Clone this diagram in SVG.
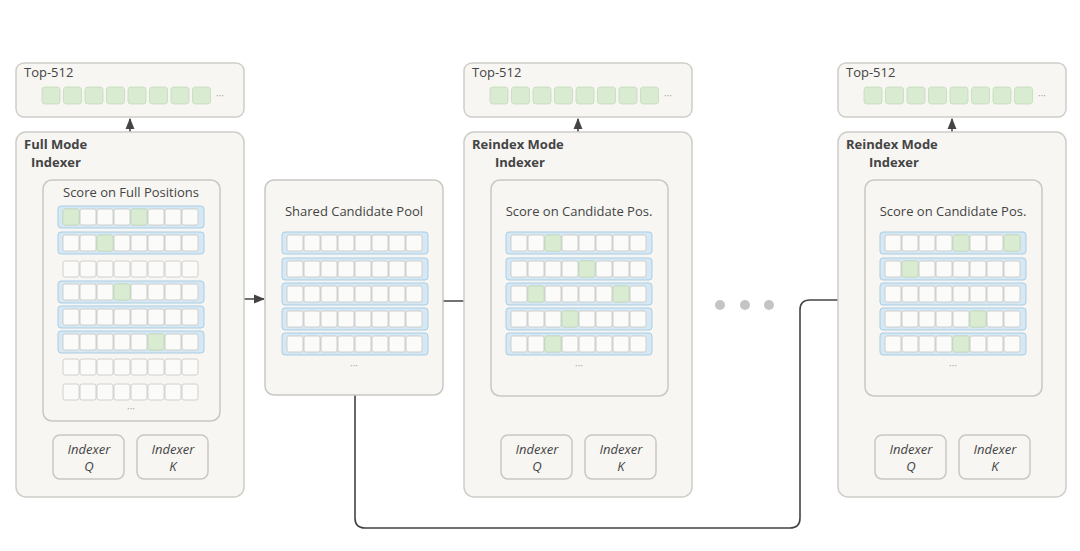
<svg xmlns="http://www.w3.org/2000/svg" xmlns:xlink="http://www.w3.org/1999/xlink" width="1080" height="551" viewBox="0 0 1080 551">
<style>
.panel{fill:#f7f6f3;stroke:#cfcdc8;stroke-width:1.5}
.inner{fill:#f7f6f3;stroke:#c9c7c2;stroke-width:1.5}
.band{fill:#d6e8f3;stroke:#a9cde3;stroke-width:1}
.cell{fill:#fbfbfa;stroke:#c8c6c1;stroke-width:0.8}
.g{fill:#d9ecd2;stroke:#c3dcb9;stroke-width:0.8}
.t{font-family:"Open Sans","DejaVu Sans",sans-serif;fill:#444;font-size:13px}
.b{font-weight:bold}
.i{font-style:italic}
.dots{font-family:"Open Sans",sans-serif;fill:#aaa;font-size:10px}
.ln{stroke:#444;stroke-width:1.6;fill:none}
</style>
<defs>
<marker id="ah" viewBox="0 0 10 10" refX="9" refY="5" markerWidth="7" markerHeight="7" orient="auto-start-reverse"><path d="M0,1 L10,5 L0,9 z" fill="#444"/></marker>
<g id="cells">
<rect class="cell" x="0" y="0" width="16" height="16" rx="2"/><rect class="cell" x="17" y="0" width="16" height="16" rx="2"/><rect class="cell" x="34" y="0" width="16" height="16" rx="2"/><rect class="cell" x="51" y="0" width="16" height="16" rx="2"/><rect class="cell" x="68" y="0" width="16" height="16" rx="2"/><rect class="cell" x="85" y="0" width="16" height="16" rx="2"/><rect class="cell" x="102" y="0" width="16" height="16" rx="2"/><rect class="cell" x="119" y="0" width="16" height="16" rx="2"/>
</g>
<g id="brow"><rect class="band" x="-5" y="-3" width="146" height="22" rx="3"/><use xlink:href="#cells"/></g>
<g id="top">
<rect class="g" x="0" y="0" width="18" height="17" rx="3"/><rect class="g" x="21.5" y="0" width="18" height="17" rx="3"/><rect class="g" x="43" y="0" width="18" height="17" rx="3"/><rect class="g" x="64.5" y="0" width="18" height="17" rx="3"/><rect class="g" x="86" y="0" width="18" height="17" rx="3"/><rect class="g" x="107.5" y="0" width="18" height="17" rx="3"/><rect class="g" x="129" y="0" width="18" height="17" rx="3"/><rect class="g" x="150.5" y="0" width="18" height="17" rx="3"/>
<text class="dots" x="174" y="12">···</text>
</g>
</defs>

<g id="connectors">
<line class="ln" x1="130" y1="180" x2="130" y2="119" marker-end="url(#ah)"/>
<line class="ln" x1="578" y1="180" x2="578" y2="119" marker-end="url(#ah)"/>
<line class="ln" x1="952" y1="180" x2="952" y2="119" marker-end="url(#ah)"/>
<line class="ln" x1="220" y1="299" x2="264" y2="299" marker-end="url(#ah)"/>
<line class="ln" x1="443" y1="301" x2="489" y2="301" marker-end="url(#ah)"/>
<path class="ln" d="M355,395 V518 Q355,528 365,528 H790 Q800,528 800,518 V310 Q800,300 810,300 H863" marker-end="url(#ah)"/>
<line class="ln" x1="89" y1="434" x2="89" y2="423" marker-end="url(#ah)"/>
<line class="ln" x1="172" y1="434" x2="172" y2="423" marker-end="url(#ah)"/>
<line class="ln" x1="537" y1="434" x2="537" y2="398" marker-end="url(#ah)"/>
<line class="ln" x1="621" y1="434" x2="621" y2="398" marker-end="url(#ah)"/>
<line class="ln" x1="911" y1="434" x2="911" y2="398" marker-end="url(#ah)"/>
<line class="ln" x1="995" y1="434" x2="995" y2="398" marker-end="url(#ah)"/>
</g>

<g id="top1"><rect class="panel" x="16" y="63" width="228" height="54" rx="8"/><text class="t" x="24" y="77">Top-512</text><use xlink:href="#top" x="42" y="87"/></g>
<g id="top2"><rect class="panel" x="464" y="63" width="228" height="54" rx="8"/><text class="t" x="472" y="77">Top-512</text><use xlink:href="#top" x="490" y="87"/></g>
<g id="top3"><rect class="panel" x="838" y="63" width="228" height="54" rx="8"/><text class="t" x="846" y="77">Top-512</text><use xlink:href="#top" x="864" y="87"/></g>

<g id="full-indexer">
<rect class="panel" x="16" y="132" width="228" height="365" rx="10"/>
<text class="t b" x="24" y="149">Full Mode</text><text class="t b" x="31" y="167">Indexer</text>
</g>
<g id="score-full">
<rect class="inner" x="43" y="180" width="177" height="241" rx="9"/>
<text class="t" x="131" y="197" text-anchor="middle">Score on Full Positions</text>
<use xlink:href="#brow" x="63" y="209"/>
<use xlink:href="#brow" x="63" y="235"/>
<use xlink:href="#cells" x="63" y="261"/>
<use xlink:href="#brow" x="63" y="284"/>
<use xlink:href="#brow" x="63" y="309"/>
<use xlink:href="#brow" x="63" y="334"/>
<use xlink:href="#cells" x="63" y="359"/>
<use xlink:href="#cells" x="63" y="384"/>
<rect class="g" x="63" y="209" width="16" height="16" rx="2"/><rect class="g" x="131" y="209" width="16" height="16" rx="2"/>
<rect class="g" x="97" y="235" width="16" height="16" rx="2"/>
<rect class="g" x="114" y="284" width="16" height="16" rx="2"/>
<rect class="g" x="148" y="334" width="16" height="16" rx="2"/>
<text class="dots" x="131" y="412" text-anchor="middle">···</text>
</g>
<g id="q1"><rect class="inner" x="53" y="435" width="71" height="44" rx="7"/><text class="t i" x="89" y="454" text-anchor="middle">Indexer</text><text class="t i" x="89" y="471" text-anchor="middle">Q</text></g>
<g id="k1"><rect class="inner" x="137" y="435" width="71" height="44" rx="7"/><text class="t i" x="173" y="454" text-anchor="middle">Indexer</text><text class="t i" x="173" y="471" text-anchor="middle">K</text></g>

<g id="pool">
<rect class="inner" x="265" y="180" width="178" height="215" rx="9"/>
<text class="t" x="354" y="216" text-anchor="middle">Shared Candidate Pool</text>
<use xlink:href="#brow" x="287" y="235"/>
<use xlink:href="#brow" x="287" y="261"/>
<use xlink:href="#brow" x="287" y="286"/>
<use xlink:href="#brow" x="287" y="311"/>
<use xlink:href="#brow" x="287" y="336"/>
<text class="dots" x="354" y="369" text-anchor="middle">···</text>
</g>

<g id="reindex-1">
<rect class="panel" x="464" y="132" width="228" height="365" rx="10"/>
<text class="t b" x="472" y="149">Reindex Mode</text><text class="t b" x="495" y="167">Indexer</text>
</g>
<g id="score-cand-1">
<rect class="inner" x="491" y="180" width="177" height="216" rx="9"/>
<text class="t" x="579" y="216" text-anchor="middle">Score on Candidate Pos.</text>
<use xlink:href="#brow" x="511" y="235"/>
<use xlink:href="#brow" x="511" y="261"/>
<use xlink:href="#brow" x="511" y="286"/>
<use xlink:href="#brow" x="511" y="311"/>
<use xlink:href="#brow" x="511" y="336"/>
<rect class="g" x="545" y="235" width="16" height="16" rx="2"/>
<rect class="g" x="579" y="261" width="16" height="16" rx="2"/>
<rect class="g" x="528" y="286" width="16" height="16" rx="2"/><rect class="g" x="613" y="286" width="16" height="16" rx="2"/>
<rect class="g" x="562" y="311" width="16" height="16" rx="2"/>
<rect class="g" x="545" y="336" width="16" height="16" rx="2"/>
<text class="dots" x="579" y="369" text-anchor="middle">···</text>
</g>
<g id="q2"><rect class="inner" x="501" y="435" width="71" height="44" rx="7"/><text class="t i" x="537" y="454" text-anchor="middle">Indexer</text><text class="t i" x="537" y="471" text-anchor="middle">Q</text></g>
<g id="k2"><rect class="inner" x="585" y="435" width="71" height="44" rx="7"/><text class="t i" x="621" y="454" text-anchor="middle">Indexer</text><text class="t i" x="621" y="471" text-anchor="middle">K</text></g>

<g id="ellipsis"><circle cx="720" cy="305" r="5" fill="#c4c4c4"/><circle cx="745" cy="305" r="5" fill="#c4c4c4"/><circle cx="769" cy="305" r="5" fill="#c4c4c4"/></g>

<g id="reindex-2">
<rect class="panel" x="838" y="132" width="228" height="365" rx="10"/>
<text class="t b" x="846" y="149">Reindex Mode</text><text class="t b" x="869" y="167">Indexer</text>
</g>
<g id="score-cand-2">
<rect class="inner" x="865" y="180" width="177" height="216" rx="9"/>
<text class="t" x="953" y="216" text-anchor="middle">Score on Candidate Pos.</text>
<use xlink:href="#brow" x="885" y="235"/>
<use xlink:href="#brow" x="885" y="261"/>
<use xlink:href="#brow" x="885" y="286"/>
<use xlink:href="#brow" x="885" y="311"/>
<use xlink:href="#brow" x="885" y="336"/>
<rect class="g" x="953" y="235" width="16" height="16" rx="2"/><rect class="g" x="1004" y="235" width="16" height="16" rx="2"/>
<rect class="g" x="902" y="261" width="16" height="16" rx="2"/>
<rect class="g" x="970" y="311" width="16" height="16" rx="2"/>
<rect class="g" x="953" y="336" width="16" height="16" rx="2"/>
<text class="dots" x="953" y="369" text-anchor="middle">···</text>
</g>
<g id="q3"><rect class="inner" x="875" y="435" width="71" height="44" rx="7"/><text class="t i" x="911" y="454" text-anchor="middle">Indexer</text><text class="t i" x="911" y="471" text-anchor="middle">Q</text></g>
<g id="k3"><rect class="inner" x="959" y="435" width="71" height="44" rx="7"/><text class="t i" x="995" y="454" text-anchor="middle">Indexer</text><text class="t i" x="995" y="471" text-anchor="middle">K</text></g>
</svg>
